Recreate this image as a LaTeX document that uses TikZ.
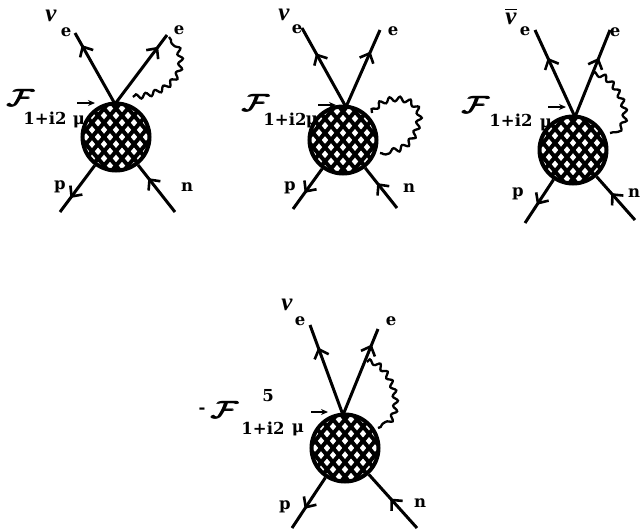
\documentclass[tikz,border=0pt]{standalone}
\usepackage{amsmath}
\usepackage{fontspec}
\setmainfont{Liberation Serif}
\newfontfamily\labfont{DejaVu Serif}[BoldFont=DejaVu Serif Bold]
\usetikzlibrary{arrows.meta,decorations.markings,decorations.pathmorphing}
\tikzset{
  fline/.style={line width=3pt,line cap=butt},
  arr/.style={postaction={decorate},decoration={markings,mark=at position #1 with {\arrow{Straight Barb[length=8pt,width=15pt,line width=2.6pt]}}}},
  blob/.style={circle,draw=black,fill=white,line width=4pt,minimum size=67pt,inner sep=0pt,
    path picture={
      \foreach \k in {-6,...,6}{
        \draw[line width=#1] ([shift={(\k*12pt,0)}]path picture bounding box.center) ++(50:-60pt) -- ++(50:120pt);
        \draw[line width=#1] ([shift={(\k*12pt,0)}]path picture bounding box.center) ++(-50:-60pt) -- ++(-50:120pt);
      }
    }},
  blob/.default=4pt,
  photon/.style={line width=2.3pt,decorate,decoration={snake,segment length=10pt,amplitude=2.4pt}},
  lab/.style={font=\labfont\bfseries\fontsize{16.5}{16.5}\selectfont,inner sep=0pt},
  nulab/.style={font=\bfseries\itshape\fontsize{25}{25}\selectfont,inner sep=0pt},
  curr/.style={font=\fontsize{29}{29}\selectfont,inner sep=0pt},
  small/.style={-{Stealth[length=7pt,width=6pt]},line width=1.8pt}
}
\newcommand{\bigF}{\scalebox{1.35}[0.95]{$\pmb{\mathcal{F}}$}}
\begin{document}
\begin{tikzpicture}[x=1pt,y=-1pt]
\useasboundingbox (0,0) rectangle (641,531);
% ---------- diagram 1
\node[blob] (b1) at (116,137) {};
\coordinate (v1) at (115,104);
\coordinate (nu1) at (75,33);
\coordinate (e1) at (167,35);
\coordinate (p1) at (60,212);
\coordinate (n1) at (175,212);
\coordinate (s1) at (133,97);
\coordinate (t1) at (169,37);
\draw[fline,arr=.83] (v1) -- (nu1);
\draw[fline,arr=.83] (v1) -- (e1);
\draw[fline,arr=.7] (b1) -- (p1);
\draw[fline,arr=.72] (n1) -- (b1);
\draw[photon] (s1) .. controls (160,95) and (195,75) .. (t1);
\node[nulab] (l1a) at (51,16) {ν};
\node[lab] (l1b) at (66,32) {e};
\node[lab] (l1c) at (179,30) {e};
\node[curr] (l1d) at (21,98) {\bigF};
\node[lab] (l1e) at (45,118) {1+i2};
\node[lab] (l1f) at (79,122) {μ};
\coordinate (a1) at (77,103); \coordinate (c1) at (95,103);
\draw[small] (a1) -- (c1);
\node[lab] (l1g) at (60,187) {p};
\node[lab] (l1h) at (187,187) {n};
% ---------- diagram 2
\node[blob] (b2) at (343,140) {};
\coordinate (v2) at (346,107);
\coordinate (nu2) at (302,28);
\coordinate (e2) at (380,30);
\coordinate (p2) at (293,209);
\coordinate (n2) at (397,208);
\coordinate (s2) at (372,113);
\coordinate (t2) at (380,153);
\draw[fline,arr=.68] (v2) -- (nu2);
\draw[fline,arr=.72] (v2) -- (e2);
\draw[fline,arr=.6] (b2) -- (p2);
\draw[fline,arr=.62] (n2) -- (b2);
\draw[photon] (s2) .. controls (385,92) and (425,100) .. (417,125) .. controls (412,150) and (395,155) .. (t2);
\node[nulab] (l2a) at (284,15) {ν};
\node[lab] (l2b) at (297,29) {e};
\node[lab] (l2c) at (393,31) {e};
\node[curr] (l2d) at (256,103) {\bigF};
\node[lab] (l2e) at (285,119) {1+i2};
\node[lab] (l2f) at (312,122) {μ};
\coordinate (a2) at (318,105); \coordinate (c2) at (336,105);
\draw[small] (a2) -- (c2);
\node[lab] (l2g) at (290,188) {p};
\node[lab] (l2h) at (409,188) {n};
% ---------- diagram 3
\node[blob] (b3) at (573,150) {};
\coordinate (v3) at (575,117);
\coordinate (nu3) at (535,30);
\coordinate (e3) at (610,30);
\coordinate (p3) at (525,223);
\coordinate (n3) at (635,220);
\coordinate (s3) at (592,75);
\coordinate (t3) at (610,133);
\draw[fline,arr=.68] (v3) -- (nu3);
\draw[fline,arr=.68] (v3) -- (e3);
\draw[fline,arr=.58] (b3) -- (p3);
\draw[fline,arr=.62] (n3) -- (b3);
\draw[photon] (s3) .. controls (610,70) and (640,125) .. (t3);
\node[nulab] (l3a) at (511,16) {$\overline{\hbox{ν}}$};
\node[lab] (l3b) at (525,31) {e};
\node[lab] (l3c) at (615,32) {e};
\node[curr] (l3d) at (476,105) {\bigF};
\node[lab] (l3e) at (511,120) {1+i2};
\node[lab] (l3f) at (546,125) {μ};
\coordinate (a3) at (548,107); \coordinate (c3) at (566,107);
\draw[small] (a3) -- (c3);
\node[lab] (l3g) at (518,194) {p};
\node[lab] (l3h) at (634,193) {n};
% ---------- diagram 4
\node[blob] (b4) at (345,448) {};
\coordinate (v4) at (343,415);
\coordinate (nu4) at (310,325);
\coordinate (e4) at (378,329);
\coordinate (p4) at (292,528);
\coordinate (n4) at (417,528);
\coordinate (s4) at (367,362);
\coordinate (t4) at (378,428);
\draw[fline,arr=.75] (v4) -- (nu4);
\draw[fline,arr=.82] (v4) -- (e4);
\draw[fline,arr=.62] (b4) -- (p4);
\draw[fline,arr=.55] (n4) -- (b4);
\draw[photon] (s4) .. controls (385,360) and (410,415) .. (t4);
\node[nulab] (l4a) at (287,305) {ν};
\node[lab] (l4b) at (300,321) {e};
\node[lab] (l4c) at (391,321) {e};
\node[lab] (l4i) at (268,396) {5};
\node[lab] (l4j) at (202,411) {-};
\node[curr] (l4d) at (225,410) {\bigF};
\node[lab] (l4e) at (263,428) {1+i2};
\node[lab] (l4f) at (298,430) {μ};
\coordinate (a4) at (311,412); \coordinate (c4) at (328,412);
\draw[small] (a4) -- (c4);
\node[lab] (l4g) at (285,507) {p};
\node[lab] (l4h) at (420,503) {n};
\end{tikzpicture}
\end{document}
